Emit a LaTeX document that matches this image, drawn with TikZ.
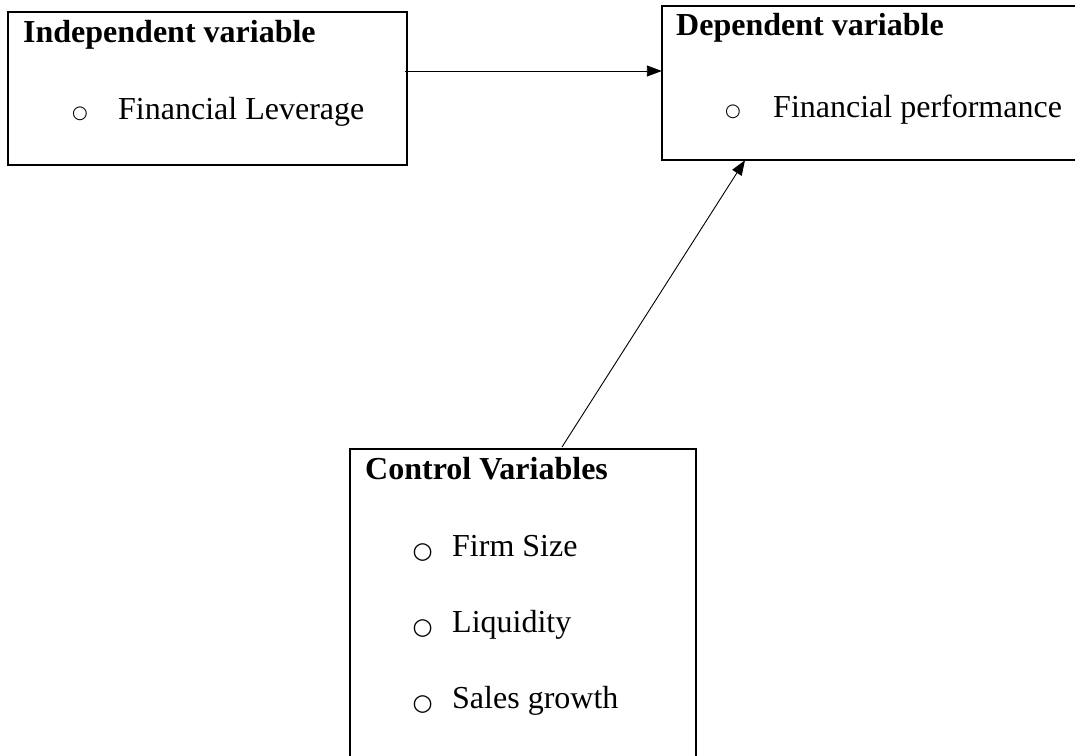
\documentclass[tikz,border=0pt]{standalone}
\usepackage{fontspec}
\setmainfont{Liberation Serif}
\newfontfamily\bulletfont{DejaVu Sans}
\usetikzlibrary{arrows.meta}
\tikzset{
  boxframe/.style={draw=black, line width=1.6pt, inner sep=0pt},
  txt/.style={anchor=base west, inner sep=0pt, font=\fontsize{32}{38}\selectfont},
  ttl/.style={txt, font=\fontsize{32}{38}\selectfont\bfseries},
  bul/.style={anchor=base west, inner sep=0pt, font=\bulletfont\fontsize{18}{22}\selectfont},
  bulbig/.style={anchor=base west, inner sep=0pt, font=\bulletfont\fontsize{23}{28}\selectfont},
  conn/.style={draw=black, line width=0.9pt, -{Triangle[length=15pt,width=11pt]}}
}
\begin{document}
\begin{tikzpicture}[x=1pt,y=-1pt]
\useasboundingbox (0,0) rectangle (1075,755);
\clip (0,0) rectangle (1075,755);
% boxes
\draw[boxframe] (8,12) rectangle (407,165);
\node[inner sep=0pt, minimum width=399pt, minimum height=153pt] (b1) at (207.5,88.5) {};
\draw[boxframe] (662,6) rectangle (1100,160);
\node[inner sep=0pt, minimum width=438pt, minimum height=154pt] (b2) at (881,83) {};
\draw[boxframe] (350,449) rectangle (696,790);
\node[inner sep=0pt, minimum width=346pt, minimum height=341pt] (b3) at (523,619.5) {};
% texts box 1
\node[ttl] (t1) at (23,42) {Independent variable};
\node[bul] (o1) at (72,118) {○};
\node[txt] (i1) at (118,119) {Financial Leverage};
% texts box 2
\node[ttl] (t2) at (676,35) {Dependent variable};
\node[bul] (o2) at (725,116) {○};
\node[txt] (i2) at (773,117) {Financial performance};
% texts box 3
\node[ttl] (t3) at (365,479) {Control Variables};
\node[bulbig] (o3a) at (412.5,558) {○};
\node[txt] (i3a) at (452,556) {Firm Size};
\node[bulbig] (o3b) at (412.5,634) {○};
\node[txt] (i3b) at (452,632) {Liquidity};
\node[bulbig] (o3c) at (412.5,710) {○};
\node[txt] (i3c) at (452,708) {Sales growth};
% connectors
\coordinate (s1) at (405,71);
\coordinate (s2) at (562,447);
\coordinate (e2) at (745,161);
\draw[conn] (s1) -- (b2.west |- s1);
\draw[conn] (s2) -- (e2 |- b2.south);
\end{tikzpicture}
\end{document}
